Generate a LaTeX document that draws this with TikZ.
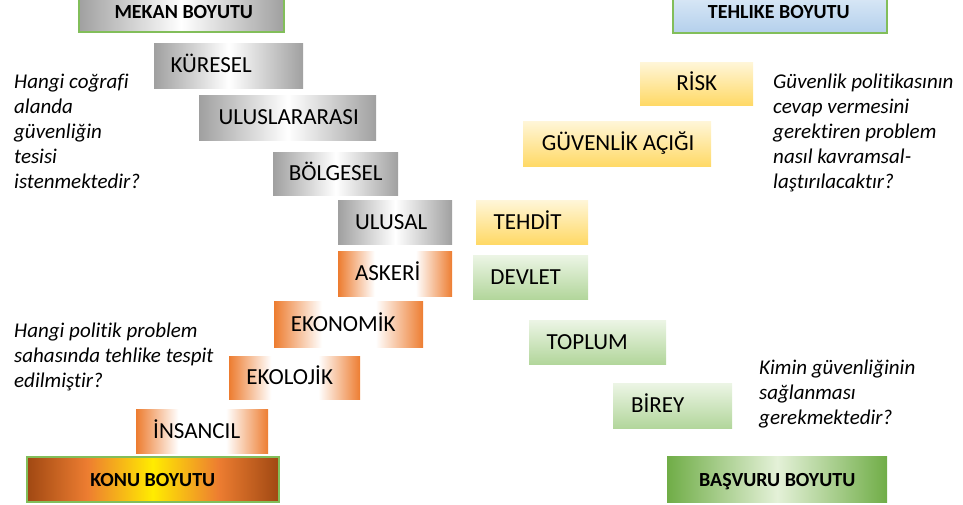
\documentclass[tikz,border=0pt]{standalone}
\usepackage{fontspec}
\setmainfont{Carlito}[Ligatures=NoCommon]
\definecolor{grayE}{RGB}{160,160,160}
\definecolor{orE}{RGB}{237,125,49}
\definecolor{yelT}{RGB}{255,246,216}
\definecolor{yelB}{RGB}{255,217,102}
\definecolor{grnT}{RGB}{236,245,229}
\definecolor{grnB}{RGB}{178,214,155}
\definecolor{bord}{RGB}{130,190,90}
\definecolor{bluT}{RGB}{224,236,248}
\definecolor{bluB}{RGB}{180,208,236}
\definecolor{brn}{RGB}{160,72,18}
\definecolor{yel}{RGB}{255,236,0}
\definecolor{grnE}{RGB}{112,173,71}
\definecolor{grnC}{RGB}{228,241,216}
\pgfdeclarehorizontalshading{grayS}{100bp}{color(0bp)=(grayE); color(25bp)=(grayE); color(50bp)=(white); color(75bp)=(grayE); color(100bp)=(grayE)}
\pgfdeclarehorizontalshading{orS}{100bp}{color(0bp)=(orE); color(25bp)=(orE); color(41bp)=(white); color(59bp)=(white); color(75bp)=(orE); color(100bp)=(orE)}
\pgfdeclarehorizontalshading{konuS}{100bp}{color(0bp)=(brn); color(25bp)=(brn); color(37bp)=(orE); color(50bp)=(yel); color(63bp)=(orE); color(75bp)=(brn); color(100bp)=(brn)}
\pgfdeclarehorizontalshading{basS}{100bp}{color(0bp)=(grnE); color(25bp)=(grnE); color(50bp)=(grnC); color(75bp)=(grnE); color(100bp)=(grnE)}
\tikzset{
  gbox/.style={shading=grayS, draw=none},
  obox/.style={shading=orS, draw=none},
  ybox/.style={top color=yelT, bottom color=yelB, draw=none},
  grbox/.style={top color=grnT, bottom color=grnB, draw=none},
  hdrgray/.style={shading=grayS, draw=bord, line width=1.5pt},
  hdrblue/.style={top color=bluT, bottom color=bluB, draw=bord, line width=1.5pt},
  konubox/.style={shading=konuS, draw=bord, line width=1.5pt},
  basbox/.style={shading=basS, draw=none},
  lbl/.style={font=\fontsize{23}{27}\selectfont, inner sep=0pt, text height=14.5pt, text depth=0pt},
  qtext/.style={font=\fontsize{21}{25}\selectfont\itshape, align=left, inner sep=0pt, anchor=base west},
}
\newcommand\mybox[8]{%
  \node[#6, anchor=north west, inner sep=0pt, minimum width={(#4)-(#2)}, minimum height={(#5)-(#3)}] (#1) at (#2,#3) {};
  \node[lbl] (#1-t) at ([xshift=#8]#1.center) {#7};}
\newcommand\hdr[1]{{\fontsize{20}{24}\selectfont\bfseries #1}}
\begin{document}
\begin{tikzpicture}[x=1pt,y=-1pt]
\useasboundingbox (0,0) rectangle (963,504);
\clip (0,0) rectangle (963,504);
\mybox{mekan}{78}{-11}{283}{31}{hdrgray}{\hdr{MEKAN BOYUTU}}{2.5}
\mybox{tehlike}{672}{-11}{886}{32}{hdrblue}{\hdr{TEHLIKE BOYUTU}}{-1}
\mybox{kuresel}{154}{43}{303}{88}{gbox}{KÜRESEL}{-17.5}
\mybox{ulus}{199}{95}{376}{140}{gbox}{ULUSLARARASI}{1}
\mybox{bolge}{273}{152}{398}{195}{gbox}{BÖLGESEL}{0}
\mybox{ulusal}{338}{200}{452}{244}{gbox}{ULUSAL}{-4}
\mybox{askeri}{338}{251}{452}{296}{obox}{ASKERİ}{-7.5}
\mybox{ekonomik}{274}{301}{423}{347}{obox}{EKONOMİK}{-5.5}
\mybox{ekolojik}{229}{356}{360}{399}{obox}{EKOLOJİK}{-5}
\mybox{insancil}{136}{409}{268}{453}{obox}{İNSANCIL}{-5.5}
\mybox{konu}{26}{456}{278}{501}{konubox}{\hdr{KONU BOYUTU}}{0}
\mybox{risk}{640}{62}{753}{105}{ybox}{RİSK}{0}
\mybox{guvenlik}{523}{121}{711}{166}{ybox}{GÜVENLİK AÇIĞI}{1}
\mybox{tehdit}{476}{200}{588}{244}{ybox}{TEHDİT}{-4.5}
\mybox{devlet}{473}{255}{588}{299}{grbox}{DEVLET}{-5}
\mybox{toplum}{529}{320}{666}{364}{grbox}{TOPLUM}{-10.5}
\mybox{birey}{613}{383}{732}{428}{grbox}{BİREY}{-15}
\mybox{basvuru}{667}{456}{887}{502}{basbox}{\hdr{BAŞVURU BOYUTU}}{0}
\node[qtext] (q1) at (14,188) {Hangi coğrafi\\alanda\\güvenliğin\\tesisi\\istenmektedir?};
\node[qtext] (q2) at (773,188) {Güvenlik politikasının\\cevap vermesini\\gerektiren problem\\nasıl kavramsal-\\laştırılacaktır?};
\node[qtext] (q3) at (14,387) {Hangi politik problem\\sahasında tehlike tespit\\edilmiştir?};
\node[qtext] (q4) at (759,424) {Kimin güvenliğinin\\sağlanması\\gerekmektedir?};
\end{tikzpicture}
\end{document}
